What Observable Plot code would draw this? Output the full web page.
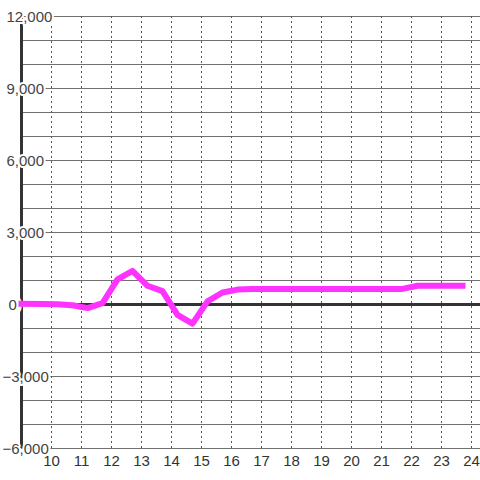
<!DOCTYPE html>
<html>
<head>
<meta charset="utf-8">
<script src="https://cdn.jsdelivr.net/npm/d3@7"></script>
<script src="https://cdn.jsdelivr.net/npm/@observablehq/plot@0.6"></script>
<style>
  html, body { margin: 0; padding: 0; background: #fff; }
</style>
</head>
<body>
<div id="chart"></div>
<script>
// Series (hour of day -> value)
const hours  = [8.9, 9.7, 10.2, 10.7, 11.2, 11.7, 12.2, 12.7, 13.2, 13.7, 14.2, 14.7, 15.2, 15.7, 16.2, 16.7, 17.2, 18.2, 19.2, 20.2, 21.2, 21.7, 22.2, 22.7, 23.2, 23.8];
const values = [30,  20,  10,   -30,  -150, 60,   1050, 1400, 780,  560,  -430, -800, 130,  500,  620,  650,  650,  650,  650,  650,  650,  650,  780,  780,  780,  780];

// Axis ticks
const xTicks = [10, 11, 12, 13, 14, 15, 16, 17, 18, 19, 20, 21, 22, 23, 24];
const yTicks = [-6000, -3000, 0, 3000, 6000, 9000, 12000];
const yGrid  = [-6000, -5000, -4000, -3000, -2000, -1000, 1000, 2000, 3000, 4000, 5000, 6000, 7000, 8000, 9000, 10000, 11000, 12000];

const data = hours.map((h, i) => ({h, v: values[i]}));
const fmt = d3.format(",");

const labelStyle = {
  x: () => 9, y: d => d, text: d => fmt(d),
  textAnchor: "start", dy: 1, fill: "#444", fontSize: 15,
  stroke: "white", paintOrder: "stroke", strokeLinejoin: "round"
};

const chart = Plot.plot({
  width: 480,
  height: 480,
  marginLeft: 21,
  marginRight: 0,
  marginTop: 16,
  marginBottom: 32,
  x: {domain: [9, 24.3], axis: null},
  y: {domain: [-6000, 12000], axis: null},
  style: {fontFamily: "'Liberation Sans', Arial, sans-serif", fontSize: "15px", background: "white"},
  marks: [
    Plot.ruleY(yGrid, {stroke: "#707070", strokeWidth: 1}),
    Plot.ruleX(xTicks, {y1: -6000, y2: 12000, stroke: "#555", strokeWidth: 1, strokeDasharray: "2,3"}),
    Plot.ruleX([9], {y1: -6000, y2: 12000, stroke: "#333", strokeWidth: 3}),
    Plot.ruleY([0], {stroke: "#333", strokeWidth: 3}),
    Plot.text(yTicks.filter(d => d > 0), {...labelStyle, dx: -15, strokeWidth: 4}),
    Plot.text(yTicks.filter(d => d < 0), {...labelStyle, dx: -19, strokeWidth: 4}),
    Plot.text(yTicks.filter(d => d === 0), {...labelStyle, dx: -13, strokeWidth: 11}),
    Plot.line(data, {x: "h", y: "v", stroke: "#ff33ff", strokeWidth: 6, strokeLinecap: "butt", strokeLinejoin: "round"}),
    Plot.text(xTicks, {x: d => d, y: () => -6000, dy: 13, text: d => String(d), fill: "#333", fontSize: 15})
  ]
});

document.getElementById("chart").append(chart);
</script>
</body>
</html>
